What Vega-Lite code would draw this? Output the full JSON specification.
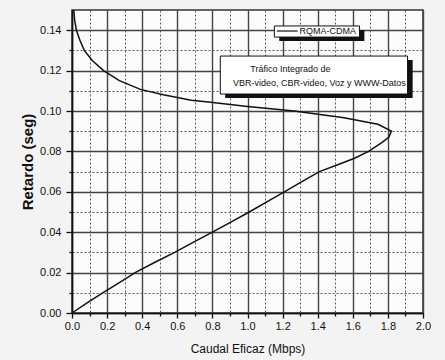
{
  "$schema": "https://vega.github.io/schema/vega-lite/v6.json",
  "width": 351,
  "height": 303,
  "autosize": {"type": "none"},
  "padding": {"left": 72, "top": 10, "right": 22, "bottom": 47},
  "background": "#f3f3f3",
  "config": {
    "view": {"fill": "#fbfbfb", "stroke": "#333333", "strokeWidth": 1.5},
    "font": "Liberation Sans, Arial, sans-serif"
  },
  "data": {
    "values": [
      {"y": 0.000, "x": 0.0},
      {"y": 0.005, "x": 0.086},
      {"y": 0.010, "x": 0.175},
      {"y": 0.015, "x": 0.27},
      {"y": 0.020, "x": 0.36},
      {"y": 0.025, "x": 0.47},
      {"y": 0.030, "x": 0.585},
      {"y": 0.035, "x": 0.69},
      {"y": 0.040, "x": 0.80},
      {"y": 0.045, "x": 0.905},
      {"y": 0.050, "x": 1.01},
      {"y": 0.055, "x": 1.11},
      {"y": 0.060, "x": 1.21},
      {"y": 0.065, "x": 1.31},
      {"y": 0.070, "x": 1.41},
      {"y": 0.0733, "x": 1.51},
      {"y": 0.0766, "x": 1.61},
      {"y": 0.080, "x": 1.69},
      {"y": 0.0843, "x": 1.765},
      {"y": 0.087, "x": 1.805},
      {"y": 0.090, "x": 1.82},
      {"y": 0.0934, "x": 1.743},
      {"y": 0.0967, "x": 1.55},
      {"y": 0.100, "x": 1.266},
      {"y": 0.1022, "x": 1.0},
      {"y": 0.1043, "x": 0.79},
      {"y": 0.1053, "x": 0.68},
      {"y": 0.1080, "x": 0.52},
      {"y": 0.1107, "x": 0.39},
      {"y": 0.115, "x": 0.27},
      {"y": 0.120, "x": 0.18},
      {"y": 0.125, "x": 0.115},
      {"y": 0.130, "x": 0.07},
      {"y": 0.135, "x": 0.045},
      {"y": 0.140, "x": 0.025},
      {"y": 0.145, "x": 0.015},
      {"y": 0.150, "x": 0.01}
    ]
  },
  "layer": [
    {
      "mark": {"type": "line", "color": "#111111", "strokeWidth": 1.5},
      "encoding": {
        "x": {
          "field": "x", "type": "quantitative",
          "scale": {"domain": [0, 2], "nice": false, "zero": false},
          "axis": {
            "orient": "bottom", "title": "Caudal Eficaz (Mbps)",
            "values": [0, 0.1, 0.2, 0.3, 0.4, 0.5, 0.6, 0.7, 0.8, 0.9, 1.0, 1.1, 1.2, 1.3, 1.4, 1.5, 1.6, 1.7, 1.8, 1.9, 2.0],
            "tickCount": 100,
            "labelExpr": "round(datum.value*10) % 2 == 1 ? '' : format(datum.value, '.1f')",
            "labelOverlap": false, "labelBound": false, "labelFlush": false,
            "grid": true, "gridOpacity": 1,
            "gridColor": {"condition": {"test": "round(datum.value*10) % 2 == 1", "value": "#5a5a5a"}, "value": "#444444"},
            "gridDash": {"condition": {"test": "round(datum.value*10) % 2 == 1", "value": [2, 2]}, "value": [1, 0]},
            "gridWidth": {"condition": {"test": "round(datum.value*10) % 2 == 1", "value": 1}, "value": 1.4},
            "domainColor": "#111111", "domainWidth": 1.5,
            "tickColor": "#111111",
            "tickSize": {"condition": {"test": "round(datum.value*10) % 2 == 1", "value": 3}, "value": 5},
            "tickWidth": 1.3,
            "labelFontSize": 11, "labelColor": "#111111", "labelPadding": 2,
            "titleFontSize": 12, "titleFontWeight": "normal", "titleColor": "#111111",
            "titlePadding": 12
          }
        },
        "y": {
          "field": "y", "type": "quantitative",
          "scale": {"domain": [0, 0.15], "nice": false, "zero": false},
          "axis": {
            "orient": "left", "title": "Retardo (seg)",
            "values": [0, 0.01, 0.02, 0.03, 0.04, 0.05, 0.06, 0.07, 0.08, 0.09, 0.10, 0.11, 0.12, 0.13, 0.14],
            "tickCount": 100,
            "labelExpr": "round(datum.value*100) % 2 == 1 ? '' : format(datum.value, '.2f')",
            "labelOverlap": false, "labelBound": false, "labelFlush": false,
            "grid": true, "gridOpacity": 1,
            "gridColor": {"condition": {"test": "round(datum.value*100) % 2 == 1", "value": "#5a5a5a"}, "value": "#444444"},
            "gridDash": {"condition": {"test": "round(datum.value*100) % 2 == 1", "value": [2, 2]}, "value": [1, 0]},
            "gridWidth": {"condition": {"test": "round(datum.value*100) % 2 == 1", "value": 1}, "value": 1.4},
            "domainColor": "#111111", "domainWidth": 1.5,
            "tickColor": "#111111",
            "tickSize": {"condition": {"test": "round(datum.value*100) % 2 == 1", "value": 3}, "value": 6},
            "tickWidth": 1.3,
            "labelFontSize": 11, "labelColor": "#111111", "labelPadding": 5,
            "titleFontSize": 15, "titleFontWeight": "bold", "titleColor": "#111111",
            "titlePadding": 4
          }
        },
        "order": {"field": "y", "type": "quantitative"}
      }
    },
    {
      "data": {"values": [{}]},
      "mark": {"type": "rect", "color": "#111111"},
      "encoding": {
        "x": {"datum": 1.181, "type": "quantitative"},
        "x2": {"datum": 1.666},
        "y": {"datum": 0.1401, "type": "quantitative"},
        "y2": {"datum": 0.1347}
      }
    },
    {
      "data": {"values": [{}]},
      "mark": {"type": "rect", "fill": "#ffffff", "stroke": "#111111", "strokeWidth": 1},
      "encoding": {
        "x": {"datum": 1.153, "type": "quantitative"},
        "x2": {"datum": 1.638},
        "y": {"datum": 0.1421, "type": "quantitative"},
        "y2": {"datum": 0.1366}
      }
    },
    {
      "data": {"values": [{}]},
      "mark": {"type": "rule", "color": "#111111", "strokeWidth": 1.2},
      "encoding": {
        "x": {"datum": 1.167, "type": "quantitative"},
        "x2": {"datum": 1.285},
        "y": {"datum": 0.1396, "type": "quantitative"}
      }
    },
    {
      "data": {"values": [{}]},
      "mark": {"type": "text", "align": "left", "baseline": "middle", "fontSize": 9, "color": "#111111", "text": "RQMA-CDMA"},
      "encoding": {
        "x": {"datum": 1.297, "type": "quantitative"},
        "y": {"datum": 0.1396, "type": "quantitative"}
      }
    },
    {
      "data": {"values": [{}]},
      "mark": {"type": "rect", "color": "#111111"},
      "encoding": {
        "x": {"datum": 0.873, "type": "quantitative"},
        "x2": {"datum": 1.941},
        "y": {"datum": 0.1252, "type": "quantitative"},
        "y2": {"datum": 0.1064}
      }
    },
    {
      "data": {"values": [{}]},
      "mark": {"type": "rect", "fill": "#ffffff", "stroke": "#111111", "strokeWidth": 1},
      "encoding": {
        "x": {"datum": 0.845, "type": "quantitative"},
        "x2": {"datum": 1.912},
        "y": {"datum": 0.1272, "type": "quantitative"},
        "y2": {"datum": 0.1084}
      }
    },
    {
      "data": {"values": [{}]},
      "mark": {"type": "text", "align": "left", "baseline": "middle", "fontSize": 9, "color": "#111111", "text": "Tráfico Integrado de"},
      "encoding": {
        "x": {"datum": 1.016, "type": "quantitative"},
        "y": {"datum": 0.1206, "type": "quantitative"}
      }
    },
    {
      "data": {"values": [{}]},
      "mark": {"type": "text", "align": "left", "baseline": "middle", "fontSize": 9, "color": "#111111", "text": "VBR-video, CBR-video, Voz y WWW-Datos"},
      "encoding": {
        "x": {"datum": 0.917, "type": "quantitative"},
        "y": {"datum": 0.1140, "type": "quantitative"}
      }
    }
  ]
}
